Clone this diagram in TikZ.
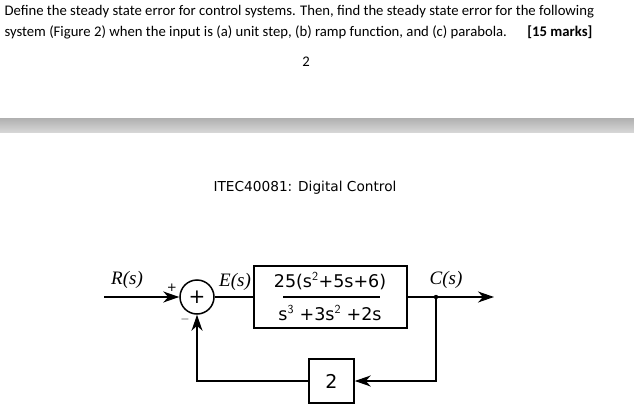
\documentclass[tikz,border=0pt]{standalone}
\usepackage{fontspec}
\setmainfont{Carlito}
\newfontfamily\dvs{DejaVu Sans}
\newfontfamily\lser{Liberation Serif}
\usetikzlibrary{calc}
\usetikzlibrary{arrows.meta}
\tikzset{>=latex}
\tikzstyle{blockbox}=[draw,line width=1.5pt,minimum width=153pt,minimum height=62pt,inner sep=0pt]
\tikzstyle{sig}=[font=\lser\fontsize{19}{19}\selectfont\itshape]
\tikzstyle{flow}=[line width=1.5pt,-{Stealth[length=16pt,width=11pt,inset=5pt]}]
\tikzstyle{qtext}=[anchor=west,font=\fontsize{14.7}{17}\selectfont]

\begin{document}
\begin{tikzpicture}[x=1pt,y=-1pt]
  \useasboundingbox (0,0) rectangle (634,409);

  % question text
  \node[qtext] (q1) at (1,12)
    {Define the steady state error for control systems. Then, find the steady state error for the following};
  \node[qtext] (q2) at (1,32)
    {system (Figure 2) when the input is (a) unit step, (b) ramp function, and (c) parabola.};
  \node[qtext,anchor=east,font=\fontsize{14.7}{17}\selectfont\bfseries] (mk) at (596,32) {[15 marks]};
  \node[qtext,anchor=center] (pg) at (306,62) {2};

  % page break band
  \shade[top color=gray!60,bottom color=gray!30] (0,119) rectangle (634,133);

  \node[font=\dvs\fontsize{13.7}{16}\selectfont] (ttl) at (305,188) {ITEC40081: Digital Control};

  % block diagram
  \node[draw,line width=1.5pt,circle,minimum size=34pt,inner sep=0pt,font=\dvs\fontsize{20}{20}\selectfont] (sum) at (197,297) {+};
  \node[blockbox] (G) at (330.5,297) {};
  \node[font=\dvs\fontsize{17.5}{17.5}\selectfont] (num) at (330,281) {25(s$^{\mathsf{2}}$+5s+6)};
  \node[font=\dvs\fontsize{17.5}{17.5}\selectfont] (den) at (330,313) {s$^{\mathsf{3}}$ +3s$^{\mathsf{2}}$ +2s};
  \draw[line width=1.5pt] (283,297) -- (380,297);
  \node[draw,line width=1.5pt,minimum width=45pt,minimum height=44pt,inner sep=0pt,font=\dvs\fontsize{19}{19}\selectfont] (H) at (331.5,381) {2};

  \coordinate (in) at (104,297);
  \coordinate (out) at (494,297);
  \coordinate (br) at (436,297);
  \fill (br) circle (2.2pt);

  \draw[flow] (in) -- (sum.west);
  \draw[line width=1.5pt] (sum.east) -- (G.west);
  \draw[flow] (G.east) -- (out);
  \draw[flow] (br) |- (H.east);
  \draw[flow] (H.west) -| (sum.south);

  \node[sig] (r) at (127,280) {R(s)};
  \node[sig] (e) at (235,282) {E(s)};
  \node[sig] (c) at (446,280) {C(s)};
  \node[font=\dvs\fontsize{12}{12}\selectfont] (pl) at (172,288) {+};
  \node[font=\dvs\fontsize{12}{12}\selectfont] (mi) at (185,319) {$-$};
\end{tikzpicture}
\end{document}
